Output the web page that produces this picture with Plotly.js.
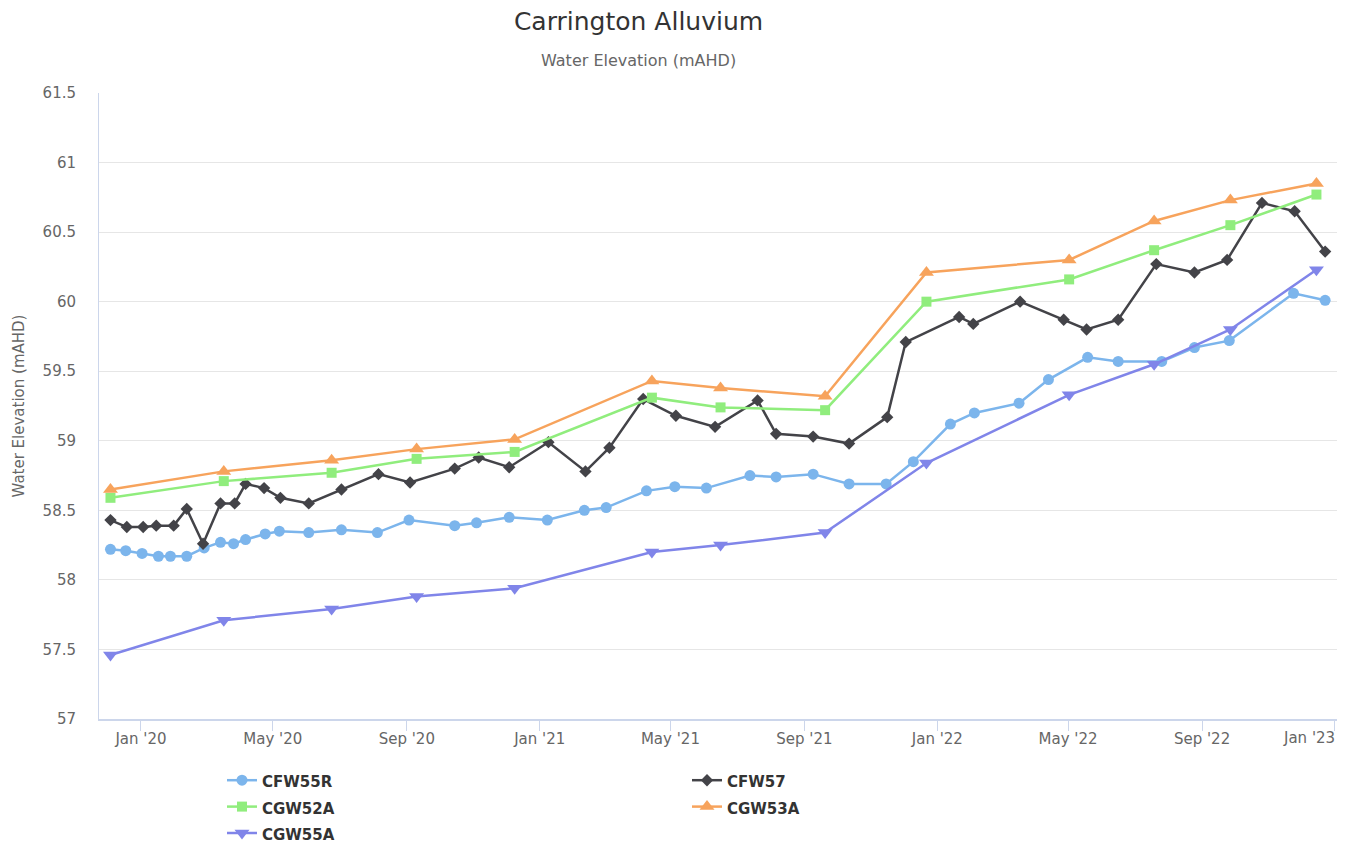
<!DOCTYPE html>
<html>
<head>
<meta charset="utf-8">
<script src="https://cdn.plot.ly/plotly-3.0.1.min.js"></script>
<style>
  html, body { margin: 0; padding: 0; background: #ffffff; }
  #chart { width: 1350px; height: 845px; }
</style>
</head>
<body>
<div id="chart"></div>
<script>
// ---- Data ----
const chartTitle = 'Carrington Alluvium';
const chartSubtitle = 'Water Elevation (mAHD)';
const yAxisTitle = 'Water Elevation (mAHD)';

const cfw55rDates = ['2019-12-04','2019-12-18','2020-01-02','2020-01-17','2020-01-28','2020-02-12','2020-02-28','2020-03-14','2020-03-26','2020-04-06','2020-04-24','2020-05-07','2020-06-03','2020-07-03','2020-08-05','2020-09-03','2020-10-15','2020-11-04','2020-12-04','2021-01-08','2021-02-11','2021-03-03','2021-04-09','2021-05-05','2021-06-03','2021-07-13','2021-08-06','2021-09-09','2021-10-12','2021-11-15','2021-12-10','2022-01-13','2022-02-04','2022-03-17','2022-04-13','2022-05-19','2022-06-16','2022-07-26','2022-08-25','2022-09-26','2022-11-24','2022-12-23'];
const cfw55rValues = [58.22,58.21,58.19,58.17,58.17,58.17,58.23,58.27,58.26,58.29,58.33,58.35,58.34,58.36,58.34,58.43,58.39,58.41,58.45,58.43,58.50,58.52,58.64,58.67,58.66,58.75,58.74,58.76,58.69,58.69,58.85,59.12,59.20,59.27,59.44,59.60,59.57,59.57,59.67,59.72,60.06,60.01];

const cfw57Dates = ['2019-12-04','2019-12-19','2020-01-03','2020-01-15','2020-01-31','2020-02-12','2020-02-27','2020-03-14','2020-03-27','2020-04-06','2020-04-23','2020-05-08','2020-06-03','2020-07-03','2020-08-06','2020-09-04','2020-10-15','2020-11-06','2020-12-04','2021-01-09','2021-02-12','2021-03-06','2021-04-06','2021-05-06','2021-06-11','2021-07-20','2021-08-06','2021-09-09','2021-10-12','2021-11-16','2021-12-03','2022-01-21','2022-02-03','2022-03-18','2022-04-27','2022-05-18','2022-06-16','2022-07-21','2022-08-25','2022-09-24','2022-10-26','2022-11-25','2022-12-23'];
const cfw57Values = [58.43,58.38,58.38,58.39,58.39,58.51,58.26,58.55,58.55,58.69,58.66,58.59,58.55,58.65,58.76,58.70,58.80,58.88,58.81,58.99,58.78,58.95,59.30,59.18,59.10,59.29,59.05,59.03,58.98,59.17,59.71,59.89,59.84,60.00,59.87,59.80,59.87,60.27,60.21,60.30,60.71,60.65,60.36];

const gwDates = ['2019-12-04','2020-03-17','2020-06-24','2020-09-10','2020-12-09','2021-04-14','2021-06-16','2021-09-20','2021-12-22','2022-05-02','2022-07-19','2022-09-27','2022-12-15'];
const cgw52aValues = [58.59,58.71,58.77,58.87,58.92,59.31,59.24,59.22,60.00,60.16,60.37,60.55,60.77];
const cgw53aValues = [58.65,58.78,58.86,58.94,59.01,59.43,59.38,59.32,60.21,60.30,60.58,60.73,60.85];
const cgw55aValues = [57.46,57.71,57.79,57.88,57.94,58.20,58.25,58.34,58.84,59.33,59.55,59.80,60.23];

const tickDates = ['2020-01-01','2020-05-01','2020-09-01','2021-01-01','2021-05-01','2021-09-01','2022-01-01','2022-05-01','2022-09-01','2023-01-01'];
const tickLabels = ["Jan '20","May '20","Sep '20","Jan '21","May '21","Sep '21","Jan '22","May '22","Sep '22","Jan '23"];

// ---- Chart ----
const FONT = '"DejaVu Sans", Verdana, sans-serif';

function series(name, x, y, color, symbol, size) {
  return {
    type: 'scatter', mode: 'lines+markers',
    name: '<span style="font-size:15px">' + name + '</span>',
    x: x, y: y,
    line: { color: color, width: 2.5 },
    marker: { color: color, symbol: symbol, size: size, line: { width: 0 } },
    hovertemplate: name + '<br>%{x|%d %b %Y}: %{y}<extra></extra>'
  };
}

const traces = [
  series('CFW55R', cfw55rDates, cfw55rValues, '#7cb5ec', 'circle', 11),
  series('CFW57', cfw57Dates, cfw57Values, '#434348', 'diamond', 9.5),
  series('CGW52A', gwDates, cgw52aValues, '#90ed7d', 'square', 10),
  series('CGW53A', gwDates, cgw53aValues, '#f7a35c', 'triangle-up', 13),
  series('CGW55A', gwDates, cgw55aValues, '#8085e9', 'triangle-down', 13)
];

const lastIdx = tickLabels.length - 1;
const shownTickText = tickLabels.map((t, i) => (i === lastIdx ? '' : t));

const layout = {
  width: 1350, height: 845,
  paper_bgcolor: '#ffffff', plot_bgcolor: '#ffffff',
  font: { family: FONT, color: '#666666' },
  margin: { l: 99, r: 13, t: 93, b: 126, pad: 0 },
  title: {
    text: chartTitle,
    font: { family: FONT, size: 25, color: '#333333' },
    xref: 'container', x: 638.5 / 1350, xanchor: 'center',
    yref: 'container', y: 1 - 21 / 845, yanchor: 'middle'
  },
  xaxis: {
    type: 'date',
    range: ['2019-11-23 11:00', '2023-01-02 21:00'],
    tickmode: 'array', tickvals: tickDates, ticktext: shownTickText,
    ticks: 'outside', ticklen: 10, tickwidth: 1, tickcolor: '#ccd6eb',
    ticklabelstandoff: -5,
    showgrid: false, zeroline: false,
    showline: true, linecolor: '#ccd6eb', linewidth: 1.5,
    tickfont: { family: FONT, size: 15, color: '#666666' },
    fixedrange: true
  },
  yaxis: {
    range: [57, 61.5], tick0: 57, dtick: 0.5,
    showgrid: true, gridcolor: '#e6e6e6', gridwidth: 1,
    zeroline: false, showline: true, linecolor: '#ccd6eb', linewidth: 1,
    ticks: '', ticklabelstandoff: 19,
    tickfont: { family: FONT, size: 15, color: '#666666' },
    title: { text: yAxisTitle, font: { family: FONT, size: 15, color: '#666666' }, standoff: 14 },
    fixedrange: true
  },
  showlegend: true,
  legend: {
    orientation: 'h',
    xref: 'container', yref: 'container',
    x: 222 / 1350, y: 1 - 762 / 845, xanchor: 'left', yanchor: 'top',
    entrywidth: 420, entrywidthmode: 'pixels',
    font: { family: FONT, size: 18, color: '#333333', weight: 'bold' },
    itemwidth: 30,
    bgcolor: 'rgba(0,0,0,0)'
  },
  annotations: [
    {
      text: chartSubtitle, showarrow: false,
      xref: 'paper', yref: 'paper', x: (638.5 - 99) / 1238, y: 1 + (93 - 60) / 626,
      xanchor: 'center', yanchor: 'middle',
      font: { family: FONT, size: 16, color: '#666666' }
    },
    {
      text: tickLabels[lastIdx], showarrow: false,
      xref: 'x', yref: 'paper', x: tickDates[lastIdx], y: -(738 - 719) / 626,
      xanchor: 'right', yanchor: 'middle', xshift: 2,
      font: { family: FONT, size: 15, color: '#666666' }
    }
  ],
  hovermode: 'closest'
};

Plotly.newPlot('chart', traces, layout, { displayModeBar: false, responsive: false });
</script>
</body>
</html>
